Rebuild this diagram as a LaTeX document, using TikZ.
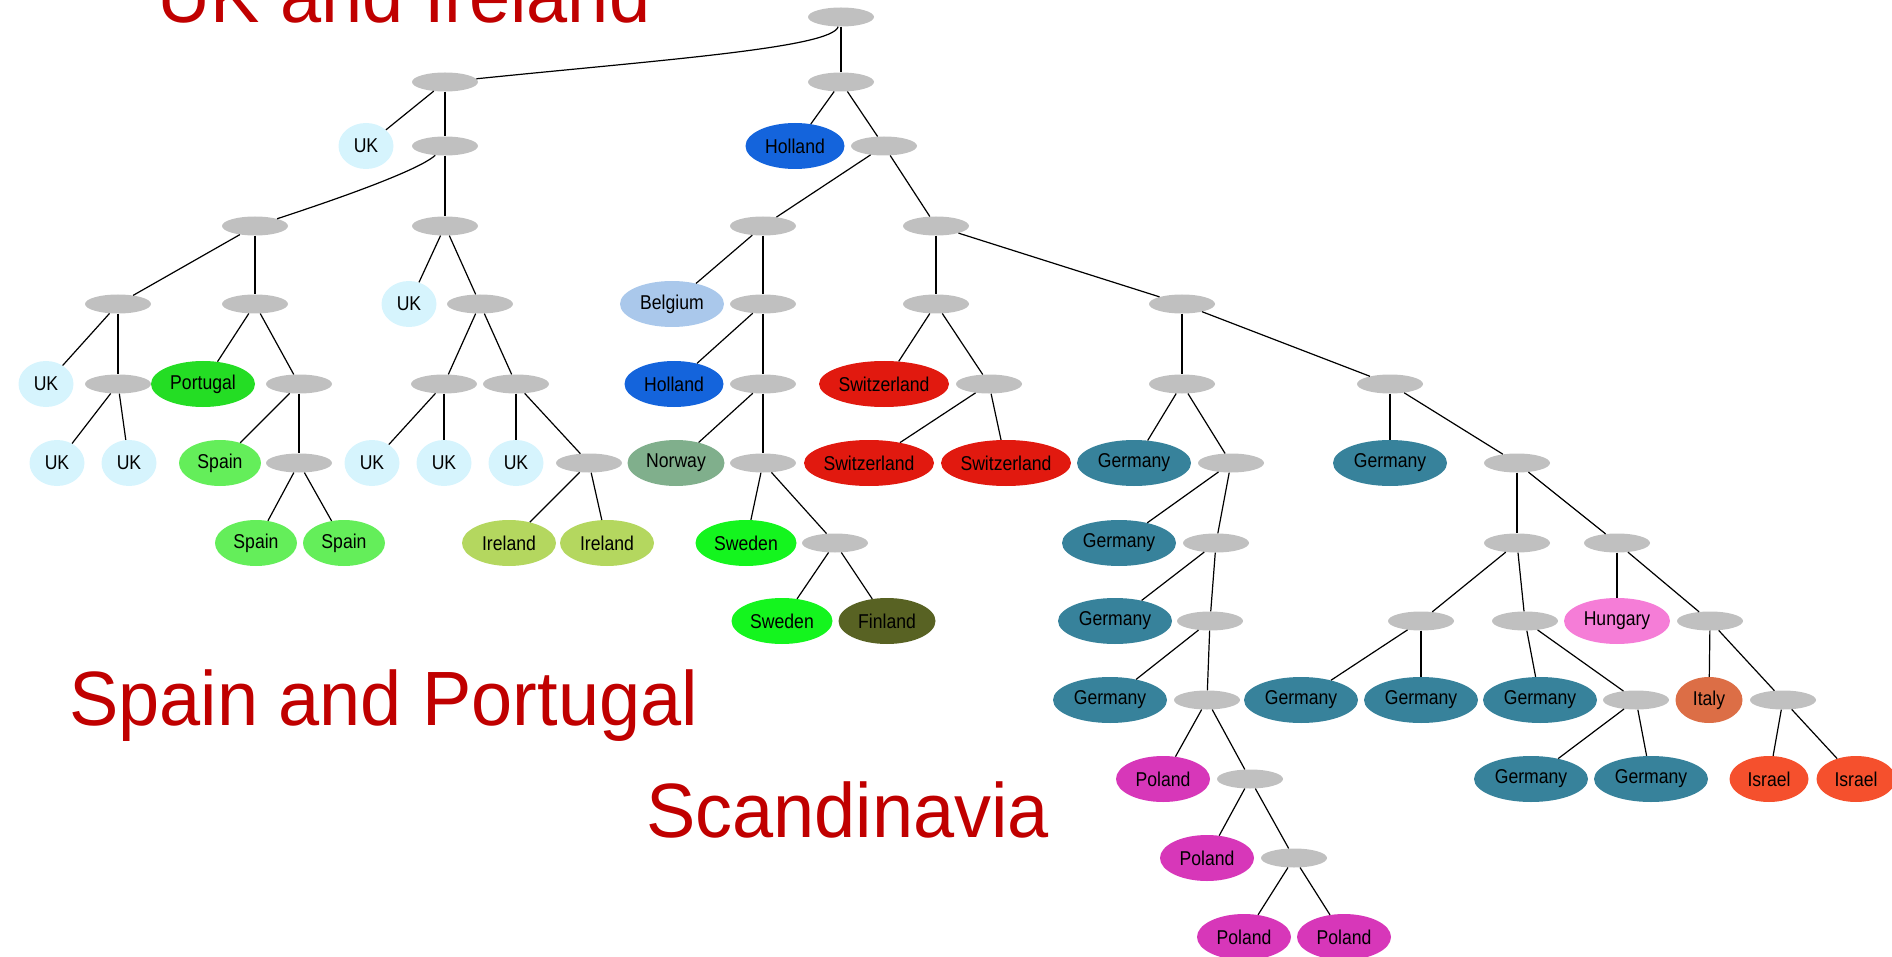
\documentclass[tikz,border=0pt]{standalone}
\usepackage{fontspec}
\usetikzlibrary{shapes.geometric}
\newfontfamily\leaffont{Liberation Sans}[FakeStretch=0.88]
\newfontfamily\regionfont{Liberation Sans}[FakeStretch=0.96]
\definecolor{junctiongrey}{RGB}{192,192,192}
\definecolor{regionred}{RGB}{192,0,0}
\definecolor{ukcol}{RGB}{214,244,253}
\definecolor{ptcol}{RGB}{36,221,36}
\definecolor{escol}{RGB}{100,238,90}
\definecolor{iecol}{RGB}{180,215,95}
\definecolor{nlcol}{RGB}{20,100,220}
\definecolor{becol}{RGB}{170,200,235}
\definecolor{nocol}{RGB}{128,175,140}
\definecolor{secol}{RGB}{20,245,30}
\definecolor{ficol}{RGB}{88,98,35}
\definecolor{chcol}{RGB}{225,25,15}
\definecolor{decol}{RGB}{55,130,155}
\definecolor{plcol}{RGB}{215,55,185}
\definecolor{hucol}{RGB}{245,125,215}
\definecolor{itcol}{RGB}{220,110,70}
\definecolor{ilcol}{RGB}{245,80,45}
\begin{document}
\begin{tikzpicture}[x=1pt, y=1pt,
   junction/.style={ellipse, fill=junctiongrey, minimum width=66pt, minimum height=19pt, inner sep=0pt},
   leaf/.style={ellipse, inner sep=0pt, minimum height=46pt,
     font={\leaffont\fontsize{20pt}{20pt}\selectfont}},
   uk/.style={leaf, fill=ukcol, minimum width=55pt},
   pt/.style={leaf, fill=ptcol, minimum width=104pt},
   es/.style={leaf, fill=escol, minimum width=82pt},
   ie/.style={leaf, fill=iecol, minimum width=94pt},
   nl/.style={leaf, fill=nlcol, minimum width=99pt},
   be/.style={leaf, fill=becol, minimum width=104pt},
   no/.style={leaf, fill=nocol, minimum width=97pt},
   se/.style={leaf, fill=secol, minimum width=101pt},
   fi/.style={leaf, fill=ficol, minimum width=97pt},
   ch/.style={leaf, fill=chcol, minimum width=130pt},
   de/.style={leaf, fill=decol, minimum width=114pt},
   pl/.style={leaf, fill=plcol, minimum width=94pt},
   hu/.style={leaf, fill=hucol, minimum width=106pt},
   it/.style={leaf, fill=itcol, minimum width=67pt},
   il/.style={leaf, fill=ilcol, minimum width=79pt},
   branch/.style={draw=black, line width=1.2pt},
   region/.style={font={\regionfont\fontsize{77pt}{77pt}\selectfont}, text=regionred,
     anchor=base west, inner sep=0pt}]
\useasboundingbox (0,0) rectangle (1892,-957);

% internal nodes
\node[junction] (r) at (841,-17) {};
\node[junction] (i1) at (445,-82) {};
\node[junction] (i2) at (841,-82) {};
\node[junction] (i3) at (445,-146) {};
\node[junction] (i4) at (884,-146) {};
\node[junction] (i5) at (255,-226) {};
\node[junction] (i6) at (445,-226) {};
\node[junction] (i7) at (763,-226) {};
\node[junction] (i8) at (936,-226) {};
\node[junction] (i9) at (118,-304) {};
\node[junction] (i10) at (255,-304) {};
\node[junction] (i11) at (480,-304) {};
\node[junction] (i12) at (763,-304) {};
\node[junction] (i13) at (936,-304) {};
\node[junction] (i14) at (1182,-304) {};
\node[junction] (i15) at (118,-384) {};
\node[junction] (i16) at (299,-384) {};
\node[junction] (i17) at (444,-384) {};
\node[junction] (i18) at (516,-384) {};
\node[junction] (i19) at (763,-384) {};
\node[junction] (i20) at (989,-384) {};
\node[junction] (i21) at (1182,-384) {};
\node[junction] (i22) at (1390,-384) {};
\node[junction] (i23) at (299,-463) {};
\node[junction] (i24) at (589,-463) {};
\node[junction] (i25) at (763,-463) {};
\node[junction] (i26) at (1231,-463) {};
\node[junction] (i27) at (1517,-463) {};
\node[junction] (i28) at (835,-543) {};
\node[junction] (i29) at (1216,-543) {};
\node[junction] (i30) at (1517,-543) {};
\node[junction] (i31) at (1617,-543) {};
\node[junction] (i32) at (1210,-621) {};
\node[junction] (i33) at (1421,-621) {};
\node[junction] (i34) at (1525,-621) {};
\node[junction] (i35) at (1710,-621) {};
\node[junction] (i36) at (1207,-700) {};
\node[junction] (i37) at (1636,-700) {};
\node[junction] (i38) at (1783,-700) {};
\node[junction] (i39) at (1250,-779) {};
\node[junction] (i40) at (1294,-858) {};

% countries
\node[uk] (uk1) at (366,-146) {UK};
\node[nl] (nl1) at (795,-146) {Holland};
\node[uk] (uk2) at (409,-304) {UK};
\node[be] (be) at (672,-304) {Belgium};
\node[uk] (uk3) at (46,-384) {UK};
\node[pt] (pt) at (203,-384) {Portugal};
\node[nl] (nl2) at (674,-384) {Holland};
\node[ch] (ch1) at (884,-384) {Switzerland};
\node[uk] (uk4) at (57,-463) {UK};
\node[uk] (uk5) at (129,-463) {UK};
\node[es] (es1) at (220,-463) {Spain};
\node[uk] (uk6) at (372,-463) {UK};
\node[uk] (uk7) at (444,-463) {UK};
\node[uk] (uk8) at (516,-463) {UK};
\node[no] (no) at (676,-463) {Norway};
\node[ch] (ch2) at (869,-463) {Switzerland};
\node[ch] (ch3) at (1006,-463) {Switzerland};
\node[de] (de1) at (1134,-463) {Germany};
\node[de] (de2) at (1390,-463) {Germany};
\node[es] (es2) at (256,-543) {Spain};
\node[es] (es3) at (344,-543) {Spain};
\node[ie] (ie1) at (509,-543) {Ireland};
\node[ie] (ie2) at (607,-543) {Ireland};
\node[se] (se1) at (746,-543) {Sweden};
\node[de] (de3) at (1119,-543) {Germany};
\node[se] (se2) at (782,-621) {Sweden};
\node[fi] (fi) at (887,-621) {Finland};
\node[de] (de4) at (1115,-621) {Germany};
\node[hu] (hu) at (1617,-621) {Hungary};
\node[de] (de5) at (1110,-700) {Germany};
\node[de] (de6) at (1301,-700) {Germany};
\node[de] (de7) at (1421,-700) {Germany};
\node[de] (de8) at (1540,-700) {Germany};
\node[it] (it) at (1709,-700) {Italy};
\node[pl] (pl1) at (1163,-779) {Poland};
\node[de] (de9) at (1531,-779) {Germany};
\node[de] (de10) at (1651,-779) {Germany};
\node[il] (il1) at (1769,-779) {Israel};
\node[il] (il2) at (1856,-779) {Israel};
\node[pl] (pl2) at (1207,-858) {Poland};
\node[pl] (pl3) at (1244,-937) {Poland};
\node[pl] (pl4) at (1344,-937) {Poland};

% branches
\draw[branch] (r) .. controls (832,-48) and (660,-60) .. (i1);
\draw[branch] (i3) .. controls (425,-165) and (380,-185) .. (i5);
\foreach \a/\b in {r/i2, i1/uk1, i1/i3, i2/nl1, i2/i4, i3/i6, i4/i7, i4/i8,
    i5/i9, i5/i10, i6/uk2, i6/i11, i7/be, i7/i12, i8/i13, i8/i14,
    i9/uk3, i9/i15, i10/pt, i10/i16, i11/i17, i11/i18, i12/nl2, i12/i19,
    i13/ch1, i13/i20, i14/i21, i14/i22, i15/uk4, i15/uk5, i16/es1, i16/i23,
    i17/uk6, i17/uk7, i18/uk8, i18/i24, i19/no, i19/i25, i20/ch2, i20/ch3,
    i21/de1, i21/i26, i22/de2, i22/i27, i23/es2, i23/es3, i24/ie1, i24/ie2,
    i25/se1, i25/i28, i26/de3, i26/i29, i27/i30, i27/i31, i28/se2, i28/fi,
    i29/de4, i29/i32, i30/i33, i30/i34, i31/hu, i31/i35, i32/de5, i32/i36,
    i33/de6, i33/de7, i34/de8, i34/i37, i35/it, i35/i38, i36/pl1, i36/i39,
    i37/de9, i37/de10, i38/il1, i38/il2, i39/pl2, i39/i40, i40/pl3, i40/pl4}
  \draw[branch] (\a) -- (\b);

% regions
\node[region] (ukie) at (157,-23) {UK and Ireland};
\node[region] (iber) at (69,-725) {Spain and Portugal};
\node[region] (scan) at (646,-837) {Scandinavia};
\end{tikzpicture}
\end{document}
